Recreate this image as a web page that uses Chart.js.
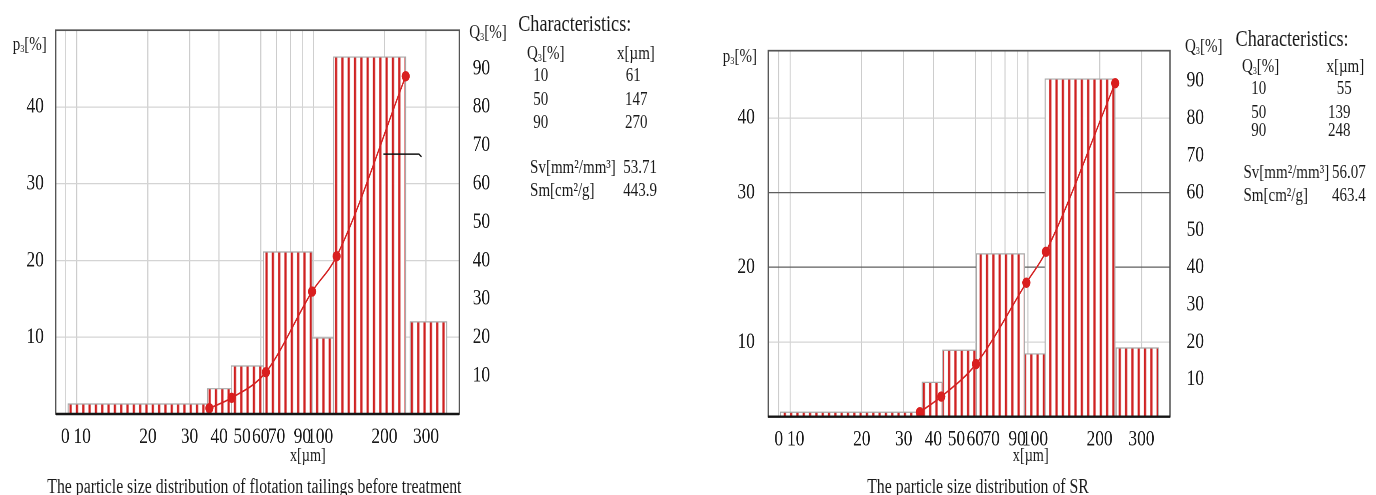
<!DOCTYPE html>
<html>
<head>
<meta charset="utf-8">
<script src="https://cdn.jsdelivr.net/npm/chart.js@4.4.1/dist/chart.umd.min.js"></script>
<style>
html, body { margin: 0; background: #fff; overflow: hidden; }
/* the whole figure is horizontally condensed, like the original scan */
#fig { position: relative; width: 1742px; height: 495px; transform: scaleX(0.79); transform-origin: 0 0;
       font-family: "Liberation Serif", "Times New Roman", serif; color: #1a1a1a; }
#fig canvas { position: absolute; top: 0; }
.t { position: absolute; white-space: nowrap; line-height: 1; font-size: 19px; }
.h { font-size: 23px; }
.ax { font-size: 19px; }
.xl { font-size: 18px; }
.cap { position: absolute; width: 700px; text-align: center; top: 476px; font-size: 20px; line-height: 1; white-space: nowrap; }
sub { font-size: 0.55em; vertical-align: -0.15em; line-height: 0; }
</style>
</head>
<body>
<div id="fig">
  <canvas id="c1" width="680" height="470" style="left:0;width:680px;height:470px"></canvas>
  <canvas id="c2" width="680" height="470" style="left:880px;width:680px;height:470px"></canvas>

  <!-- left chart texts -->
  <div class="t ax" style="left:16px;top:34px">p<sub>3</sub>[%]</div>
  <div class="t ax" style="left:594px;top:22px">Q<sub>3</sub>[%]</div>
  <div class="t xl" style="left:367px;top:446px">x[µm]</div>
  <div class="t h" style="left:656px;top:12px">Characteristics:</div>
  <div class="t" style="left:667px;top:43px">Q<sub>3</sub>[%]</div>
  <div class="t" style="left:781px;top:43px">x[µm]</div>
  <div class="t" style="left:675px;top:65px">10</div>
  <div class="t" style="left:792px;top:65px">61</div>
  <div class="t" style="left:675px;top:89px">50</div>
  <div class="t" style="left:791px;top:89px">147</div>
  <div class="t" style="left:675px;top:112px">90</div>
  <div class="t" style="left:791px;top:112px">270</div>
  <div class="t" style="left:671px;top:157px">Sv[mm²/mm³]</div>
  <div class="t" style="left:789px;top:157px">53.71</div>
  <div class="t" style="left:671px;top:180px">Sm[cm²/g]</div>
  <div class="t" style="left:789px;top:180px">443.9</div>
  <div class="cap" style="left:-28px">The particle size distribution of flotation tailings before treatment</div>

  <!-- right chart texts -->
  <div class="t ax" style="left:915px;top:46px">p<sub>3</sub>[%]</div>
  <div class="t ax" style="left:1500px;top:36px">Q<sub>3</sub>[%]</div>
  <div class="t xl" style="left:1282px;top:446px">x[µm]</div>
  <div class="t h" style="left:1564px;top:27px">Characteristics:</div>
  <div class="t" style="left:1572px;top:56px">Q<sub>3</sub>[%]</div>
  <div class="t" style="left:1679px;top:56px">x[µm]</div>
  <div class="t" style="left:1584px;top:78px">10</div>
  <div class="t" style="left:1692px;top:78px">55</div>
  <div class="t" style="left:1584px;top:102px">50</div>
  <div class="t" style="left:1681px;top:102px">139</div>
  <div class="t" style="left:1584px;top:120px">90</div>
  <div class="t" style="left:1681px;top:120px">248</div>
  <div class="t" style="left:1574px;top:162px">Sv[mm²/mm³]</div>
  <div class="t" style="left:1686px;top:162px">56.07</div>
  <div class="t" style="left:1574px;top:185px">Sm[cm²/g]</div>
  <div class="t" style="left:1686px;top:185px">463.4</div>
  <div class="cap" style="left:888px">The particle size distribution of SR</div>
</div>

<script>
// x axis (shared): label texts, where the labels sit, where the grid lines sit
const xTickLabels = ['0', '10', '20', '30', '40', '50', '60', '70', '90', '100', '200', '300'];
const xLabelAt = [8.95, 10.55, 20, 30, 40, 50, 60, 70, 90, 107, 200, 300];
const xGridAt = [8.95, 10, 20, 30, 40, 60, 70, 80, 90, 100, 200, 300];
const pTicks = [10, 20, 30, 40];
const qTicks = [10, 20, 30, 40, 50, 60, 70, 80, 90];

// flotation tailings before treatment
const tailLo = [9.2, 35.7, 45, 61.5, 98.9, 122, 257];
const tailHi = [35.5, 45, 61.5, 98.9, 121.6, 246, 367];
const tailP3 = [1.3, 3.3, 6.25, 21.1, 9.9, 46.5, 12.0];
const tailQx = [36.4, 45.2, 63.1, 98.9, 125.6, 246];
const tailQ3 = [1.5, 4.2, 10.9, 31.9, 41.1, 88.0];
const tailMarkX = [198, 280, 287];
const tailMarkQ = [67.7, 67.7, 67.0];

// SR
const srLo = [9.1, 35.9, 43.8, 60.7, 96.5, 118, 234.7];
const srHi = [34.8, 43.8, 60.7, 96.5, 118, 232, 353];
const srP3 = [0.6, 4.6, 8.9, 21.8, 8.4, 45.2, 9.2];
const srQx = [35.1, 43.2, 60.4, 98.4, 118.9, 232.5];
const srQ3 = [1.2, 5.4, 14.1, 35.9, 44.2, 89.4];

const tickFont = { family: '"Liberation Serif", "Times New Roman", serif', size: 22 };
const tickColor = '#1a1a1a';

function hatch(ctx) {
    const c = document.createElement('canvas');
    c.width = 8; c.height = 8;
    const g = c.getContext('2d');
    g.fillStyle = '#fff';
    g.fillRect(0, 0, 8, 8);
    g.fillStyle = '#cf1f1f';
    g.fillRect(0, 0, 2.8, 8);
    return ctx.createPattern(c, 'repeat');
}

// plot frame: grey box, darker base line
const framePlugin = {
    id: 'frame',
    afterDatasetsDraw(chart) {
        const { ctx, chartArea: a } = chart;
        ctx.save();
        ctx.strokeStyle = '#555';
        ctx.lineWidth = 1.7;
        ctx.strokeRect(a.left, a.top, a.right - a.left, a.bottom - a.top);
        ctx.strokeStyle = '#151515';
        ctx.lineWidth = 2.4;
        ctx.beginPath();
        ctx.moveTo(a.left, a.bottom);
        ctx.lineTo(a.right, a.bottom);
        ctx.stroke();
        ctx.restore();
    }
};

function makeChart(id, o) {
    const ctx = document.getElementById(id).getContext('2d');
    const stripes = hatch(ctx);

    const datasets = [{
        data: o.qx.map((x, i) => ({ x, y: o.q3[i] })),
        xAxisID: 'x', yAxisID: 'q',
        borderColor: '#d42323', borderWidth: 1.7,
        pointRadius: 5.2, pointBackgroundColor: '#d91f1f', pointBorderWidth: 0,
        cubicInterpolationMode: 'monotone',
        order: 0
    }];
    if (o.markX) {
        datasets.push({
            data: o.markX.map((x, i) => ({ x, y: o.markQ[i] })),
            xAxisID: 'x', yAxisID: 'q',
            borderColor: '#111', borderWidth: 1.5, pointRadius: 0, tension: 0,
            order: 1
        });
    }
    o.lo.forEach((lo, i) => {
        const hi = o.hi[i], h = o.p3[i];
        datasets.push({
            data: [{ x: lo, y: 0 }, { x: lo, y: h }, { x: hi, y: h }, { x: hi, y: 0 }],
            xAxisID: 'x', yAxisID: 'y',
            borderColor: '#a9a9a9', borderWidth: 1.2, pointRadius: 0, tension: 0,
            fill: 'origin', backgroundColor: stripes,
            order: 2
        });
    });

    new Chart(ctx, {
        type: 'line',
        data: { datasets },
        options: {
            responsive: false,
            animation: false,
            devicePixelRatio: 2,
            layout: { padding: { top: o.top, left: 0, right: 0, bottom: 0 } },
            plugins: { legend: { display: false }, tooltip: { enabled: false } },
            scales: {
                x: {
                    type: 'logarithmic', min: o.xMin, max: o.xMax, bounds: 'data',
                    afterBuildTicks: s => { s.ticks = xLabelAt.map(v => ({ value: v })); },
                    ticks: {
                        autoSkip: false, maxRotation: 0, minRotation: 0, padding: 2,
                        font: tickFont, color: tickColor,
                        callback: (v, i) => xTickLabels[i]
                    },
                    grid: { display: false },
                    border: { display: false },
                    afterFit: s => { s.height = o.xH; }
                },
                xg: {
                    type: 'logarithmic', position: 'bottom', min: o.xMin, max: o.xMax, bounds: 'data',
                    afterBuildTicks: s => { s.ticks = xGridAt.map(v => ({ value: v })); },
                    ticks: { display: false },
                    grid: { color: '#cdcdcd', lineWidth: 1.3, drawTicks: false },
                    border: { display: false },
                    afterFit: s => { s.height = 0; }
                },
                y: {
                    position: 'left', min: 0, max: o.pMax,
                    afterBuildTicks: s => { s.ticks = pTicks.map(v => ({ value: v })); },
                    ticks: { padding: o.yPad, font: tickFont, color: tickColor },
                    grid: {
                        color: c => (c.tick && o.dark.includes(c.tick.value)) ? '#5e5e5e' : '#d4d4d4',
                        lineWidth: 1.2, drawTicks: false
                    },
                    border: { display: false },
                    afterFit: s => { s.width = o.yW; }
                },
                q: {
                    position: 'right', min: 0, max: o.qMax,
                    afterBuildTicks: s => { s.ticks = qTicks.map(v => ({ value: v })); },
                    ticks: { padding: o.qPad, font: tickFont, color: tickColor },
                    grid: { display: false, drawTicks: false },
                    border: { display: false },
                    afterFit: s => { s.width = o.qW; }
                }
            }
        },
        plugins: [framePlugin]
    });
}

makeChart('c1', {
    lo: tailLo, hi: tailHi, p3: tailP3, qx: tailQx, q3: tailQ3,
    markX: tailMarkX, markQ: tailMarkQ,
    xMin: 8.15, xMax: 414.7, pMax: 50, qMax: 100, dark: [],
    top: 30, xH: 56, yW: 70.5, qW: 98.6, yPad: 15, qPad: 17
});

makeChart('c2', {
    lo: srLo, hi: srHi, p3: srP3, qx: srQx, q3: srQ3,
    xMin: 8.09, xMax: 395.3, pMax: 49, qMax: 98.1, dark: [20, 30],
    top: 50.7, xH: 53.3, yW: 92.5, qW: 79, yPad: 17, qPad: 21
});
</script>
</body>
</html>
